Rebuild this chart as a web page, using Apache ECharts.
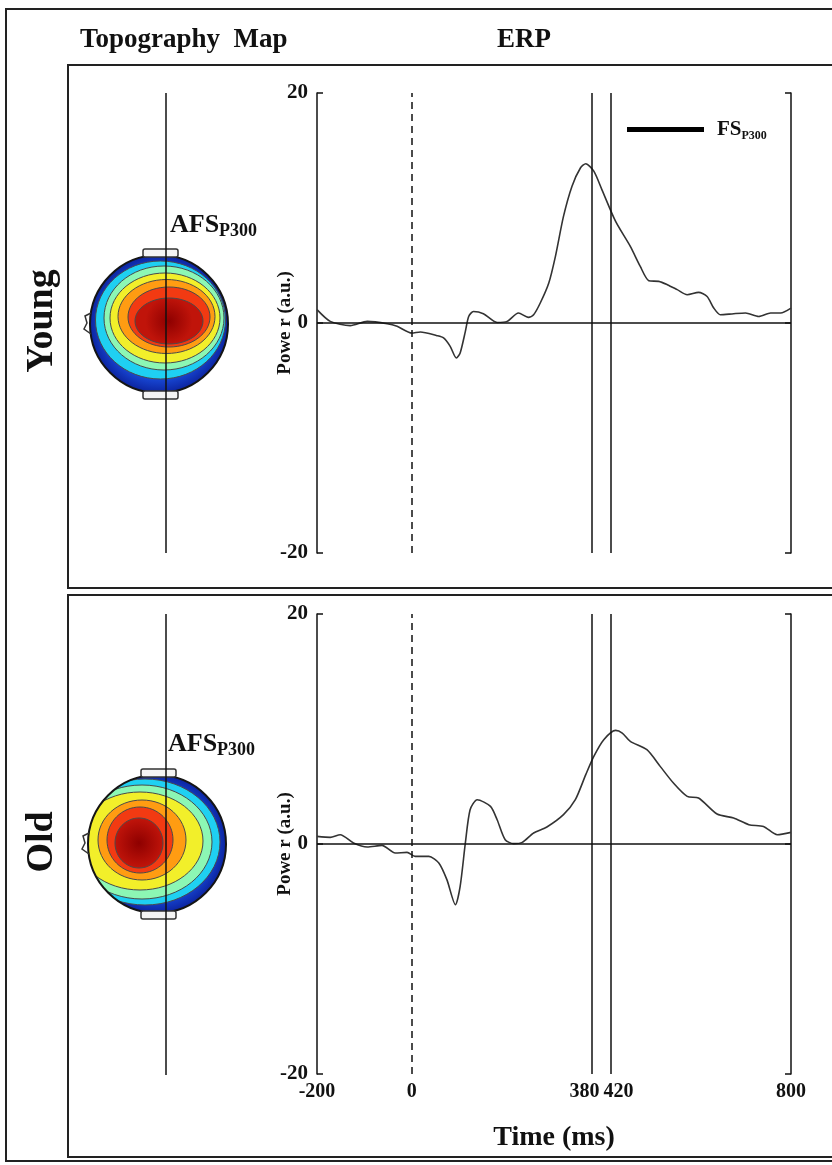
<!DOCTYPE html>
<html lang="en">
<head>
<meta charset="UTF-8">
<title>Topography Map / ERP</title>
<style>
  html, body { margin: 0; padding: 0; background: #fff; }
  #main { width: 832px; height: 1165px; }
</style>
</head>
<body>
<div id="main"></div>
<script src="https://cdn.jsdelivr.net/npm/echarts@6/dist/echarts.min.js"></script>
<script>
// ERP waveforms (time in ms, power in a.u.)
var youngTime  = [-200, -172, -130, -94, -52, -31, 0, 18, 53, 67, 81, 94, 102, 113, 120, 130, 151, 180, 201, 225, 246, 257, 271, 289, 303, 320, 338, 356, 367, 384, 401, 430, 461, 482, 500, 521, 539, 560, 581, 605, 623, 637, 651, 679, 704, 732, 757, 778, 800];
var youngPower = [1.16, 0.14, -0.23, 0.14, -0.06, -0.29, -0.87, -0.78, -1.1, -1.3, -2.03, -3.04, -2.6, -0.73, 0.57, 1.0, 0.81, 0.05, 0.14, 0.87, 0.49, 0.72, 1.74, 3.48, 5.8, 9.27, 11.9, 13.5, 13.85, 13.2, 11.6, 8.83, 6.66, 4.92, 3.68, 3.62, 3.33, 2.9, 2.46, 2.66, 2.31, 1.3, 0.72, 0.81, 0.87, 0.57, 0.87, 0.87, 1.3];

var oldTime  = [-200, -172, -151, -123, -94, -63, -35, -10, 7, 36, 57, 74, 92, 102, 113, 123, 138, 166, 180, 197, 215, 233, 257, 285, 320, 345, 367, 384, 405, 430, 444, 461, 496, 524, 552, 581, 605, 644, 679, 711, 742, 771, 800];
var oldPower = [0.66, 0.58, 0.81, 0.09, -0.26, -0.12, -0.78, -0.73, -1.08, -1.08, -1.65, -3.1, -5.28, -3.69, 0.09, 2.98, 3.85, 3.27, 2.11, 0.37, 0.03, 0.14, 0.96, 1.48, 2.55, 3.85, 6.03, 7.62, 9.07, 9.88, 9.65, 8.92, 8.2, 6.75, 5.3, 4.14, 4.0, 2.61, 2.26, 1.68, 1.53, 0.81, 1.01];

var timeTicks = [-200, 0, 380, 420, 800];
var onsetTime = 0;
var peakTimes = [380, 420];
var powerMin = -20, powerMax = 20, powerStep = 20;

var FONT = '"Liberation Serif", "Times New Roman", serif';

function pairs(xs, ys) {
  return xs.map(function (x, i) { return [x, ys[i]]; });
}

var chart = echarts.init(document.getElementById('main'));

// scalp map drawn as nested contour bands (jet colours)
function headMap(cx, cy, bands) {
  var els = [{
    type: 'circle', z: 1,
    shape: { cx: cx, cy: cy, r: 69 },
    style: { fill: { type: 'radial', x: 0.5, y: 0.5, r: 0.5, colorStops: [
      { offset: 0, color: '#2f8cff' }, { offset: 0.75, color: '#1a4fe0' }, { offset: 1, color: '#0c24a0' }] } }
  }];
  bands.forEach(function (b, i) {
    var fill = b[4];
    if (i === bands.length - 1) {
      fill = { type: 'radial', x: 0.5, y: 0.5, r: 0.5, colorStops: [
        { offset: 0, color: '#8e0000' }, { offset: 1, color: '#c0140a' }] };
    }
    els.push({
      type: 'ellipse', z: 2,
      shape: { cx: b[0], cy: b[1], rx: b[2], ry: b[3] },
      style: { fill: fill, stroke: '#4a4a4a', lineWidth: 1 }
    });
  });
  els.push({ type: 'ring', z: 3, shape: { cx: cx, cy: cy, r: 88, r0: 69 }, style: { fill: '#fff' } });
  els.push({ type: 'circle', z: 4, shape: { cx: cx, cy: cy, r: 69 }, style: { fill: null, stroke: '#151515', lineWidth: 2 } });
  els.push({ type: 'rect', z: 4, shape: { x: cx - 16, y: cy - 75, width: 35, height: 8, r: 2 }, style: { fill: '#f4f4f4', stroke: '#333', lineWidth: 1.5 } });
  els.push({ type: 'rect', z: 4, shape: { x: cx - 16, y: cy + 67, width: 35, height: 8, r: 2 }, style: { fill: '#f4f4f4', stroke: '#333', lineWidth: 1.5 } });
  els.push({ type: 'polyline', z: 4, shape: { points: [[cx - 68, cy - 11], [cx - 74, cy - 8], [cx - 72, cy - 1], [cx - 75, cy + 5], [cx - 68, cy + 10]] }, style: { fill: null, stroke: '#333', lineWidth: 1.5 } });
  return els;
}

var youngBands = [
  [160.5, 320, 65, 59, '#1fd0f2'],
  [164, 318, 60, 52, '#8cf7b4'],
  [165, 318, 55, 45, '#f2ef2a'],
  [166.5, 316.5, 48.5, 37, '#ff9c12'],
  [169, 317, 41, 30, '#f23a12'],
  [169, 321, 34, 23, '#b30c06']
];
var oldBands = [
  [145, 842, 75, 63, '#1fd0f2'],
  [142, 842, 70, 57, '#8cf7b4'],
  [140, 841, 63, 49, '#f2ef2a'],
  [142, 840, 44, 40, '#ff9c12'],
  [140, 840, 33, 33, '#f23a12'],
  [139, 843, 24, 25, '#b30c06']
];

function afsLabel(x, y) {
  return {
    type: 'text', z: 6, x: x, y: y,
    style: {
      text: '{a|AFS}{b|P300}',
      rich: {
        a: { font: 'bold 26px ' + FONT, fill: '#111', lineHeight: 30 },
        b: { font: 'bold 18px ' + FONT, fill: '#111', verticalAlign: 'bottom' }
      }
    }
  };
}

var graphics = [
  { type: 'rect', z: 0, shape: { x: 6, y: 9, width: 840, height: 1152 }, style: { fill: null, stroke: '#222', lineWidth: 2 } },
  { type: 'rect', z: 0, shape: { x: 68, y: 65, width: 780, height: 523 }, style: { fill: null, stroke: '#222', lineWidth: 2 } },
  { type: 'rect', z: 0, shape: { x: 68, y: 595, width: 780, height: 562 }, style: { fill: null, stroke: '#222', lineWidth: 2 } },
  { type: 'text', x: 80, y: 27, style: { text: 'Topography  Map', font: 'bold 27px ' + FONT, fill: '#111' } },
  { type: 'text', x: 524, y: 27, style: { text: 'ERP', font: 'bold 27px ' + FONT, fill: '#111', textAlign: 'center' } },
  { type: 'text', x: 42, y: 321, rotation: Math.PI / 2, style: { text: 'Young', font: 'bold 38px ' + FONT, fill: '#111', textAlign: 'center', textVerticalAlign: 'middle' } },
  { type: 'text', x: 42, y: 842, rotation: Math.PI / 2, style: { text: 'Old', font: 'bold 38px ' + FONT, fill: '#111', textAlign: 'center', textVerticalAlign: 'middle' } }
].concat(headMap(159, 324, youngBands), headMap(157, 844, oldBands), [
  { type: 'line', z: 5, shape: { x1: 166, y1: 93, x2: 166, y2: 553 }, style: { stroke: '#111', lineWidth: 1.5 } },
  { type: 'line', z: 5, shape: { x1: 166, y1: 614, x2: 166, y2: 1075 }, style: { stroke: '#111', lineWidth: 1.5 } },
  afsLabel(170, 210),
  afsLabel(168, 729)
]);

var markLines = {
  silent: true,
  symbol: ['none', 'none'],
  label: { show: false },
  lineStyle: { color: '#111', width: 1.5, type: 'solid' },
  data: [{ xAxis: onsetTime, lineStyle: { type: [7, 5] } }]
    .concat(peakTimes.map(function (t) { return { xAxis: t }; }))
    .concat([{ yAxis: 0 }])
};

function yAxes(gridIndex) {
  var base = {
    gridIndex: gridIndex, type: 'value', min: powerMin, max: powerMax, interval: powerStep,
    splitLine: { show: false },
    axisLine: { show: true, onZero: false, lineStyle: { color: '#111', width: 1.5 } },
    axisTick: { show: true, inside: true, length: 6, lineStyle: { color: '#111', width: 1.5 } }
  };
  var left = Object.assign({}, base, {
    position: 'left',
    name: 'Powe r (a.u.)', nameLocation: 'middle', nameGap: 22, nameMoveOverlap: false,
    nameTextStyle: { fontFamily: FONT, fontWeight: 'bold', fontSize: 19, color: '#111' },
    axisLabel: { fontFamily: FONT, fontWeight: 'bold', fontSize: 21, color: '#111', margin: 9 }
  });
  var right = Object.assign({}, base, { position: 'right', axisLabel: { show: false } });
  return [left, right];
}

chart.setOption({
  animation: false,
  backgroundColor: '#fff',
  graphic: graphics,
  legend: {
    data: ['Young'],
    left: 627, top: 119, padding: 0,
    icon: 'rect', itemWidth: 77, itemHeight: 5,
    itemStyle: { color: '#000' },
    selectedMode: false,
    formatter: function () { return '{a|FS}{b|P300}'; },
    textStyle: {
      rich: {
        a: { fontFamily: FONT, fontWeight: 'bold', fontSize: 21, color: '#111', padding: [0, 0, 0, 8], lineHeight: 24 },
        b: { fontFamily: FONT, fontWeight: 'bold', fontSize: 12, color: '#111', verticalAlign: 'bottom' }
      }
    }
  },
  grid: [
    { left: 317, top: 93, width: 474, height: 460 },
    { left: 317, top: 614, width: 474, height: 460 }
  ],
  xAxis: [
    { gridIndex: 0, type: 'value', min: -200, max: 800, axisLine: { show: false, onZero: false }, axisTick: { show: false }, axisLabel: { show: false }, splitLine: { show: false } },
    {
      gridIndex: 1, type: 'value', min: -200, max: 800,
      axisLine: { show: false, onZero: false }, axisTick: { show: false }, splitLine: { show: false },
      name: 'Time (ms)', nameLocation: 'middle', nameGap: 50, nameMoveOverlap: false,
      nameTextStyle: { fontFamily: FONT, fontWeight: 'bold', fontSize: 28, color: '#111' },
      axisLabel: {
        customValues: timeTicks,
        margin: 8,
        fontFamily: FONT, fontWeight: 'bold', fontSize: 20, color: '#111',
        formatter: function (v) {
          if (v === peakTimes[0]) return '{l|' + v + '}';
          if (v === peakTimes[1]) return '{r|' + v + '}';
          return String(v);
        },
        rich: {
          l: { fontFamily: FONT, fontWeight: 'bold', fontSize: 20, color: '#111', padding: [0, 15, 0, 0] },
          r: { fontFamily: FONT, fontWeight: 'bold', fontSize: 20, color: '#111', padding: [0, 0, 0, 15] }
        }
      }
    }
  ],
  yAxis: yAxes(0).concat(yAxes(1)),
  series: [
    {
      name: 'Young', type: 'line', xAxisIndex: 0, yAxisIndex: 0,
      data: pairs(youngTime, youngPower), smooth: 0.25, showSymbol: false,
      color: '#000', lineStyle: { color: '#333', width: 1.6 },
      markLine: markLines
    },
    {
      name: 'Old', type: 'line', xAxisIndex: 1, yAxisIndex: 2,
      data: pairs(oldTime, oldPower), smooth: 0.25, showSymbol: false,
      color: '#000', lineStyle: { color: '#333', width: 1.6 },
      markLine: markLines
    }
  ]
});
</script>
</body>
</html>
